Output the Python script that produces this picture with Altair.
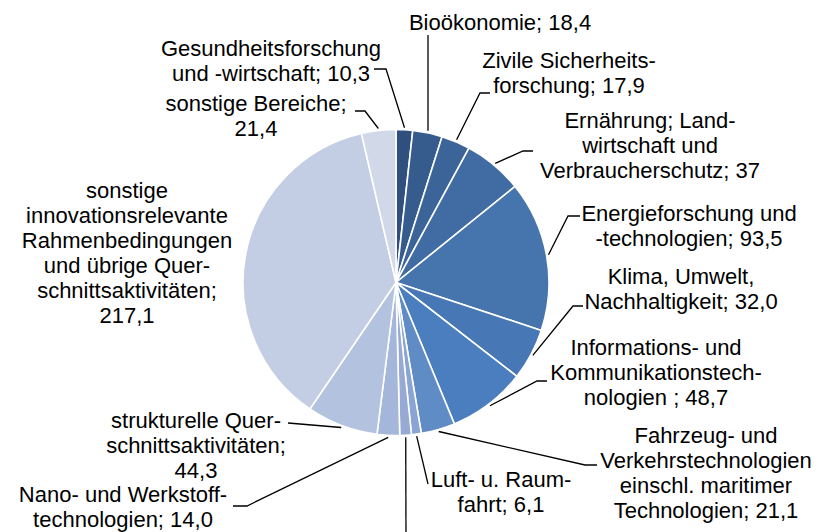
import math
import altair as alt
import pandas as pd

# ---------------- data (clockwise from 12 o'clock) ----------------
names = [
    "Gesundheitsforschung und -wirtschaft",
    "Bioökonomie",
    "Zivile Sicherheitsforschung",
    "Ernährung; Landwirtschaft und Verbraucherschutz",
    "Energieforschung und -technologien",
    "Klima, Umwelt, Nachhaltigkeit",
    "Informations- und Kommunikationstechnologien",
    "Fahrzeug- und Verkehrstechnologien einschl. maritimer Technologien",
    "Luft- u. Raumfahrt",
    "(Beschriftung außerhalb des Bildausschnitts)",
    "Nano- und Werkstofftechnologien",
    "strukturelle Querschnittsaktivitäten",
    "sonstige innovationsrelevante Rahmenbedingungen und übrige Querschnittsaktivitäten",
    "sonstige Bereiche",
]
values = [10.3, 18.4, 17.9, 37.0, 93.5, 32.0, 48.7, 21.1, 6.1, 7.2, 14.0, 44.3, 217.1, 21.4]
value_text = ["10,3", "18,4", "17,9", "37", "93,5", "32,0", "48,7", "21,1", "6,1", "",
              "14,0", "44,3", "217,1", "21,4"]
label_heads = [
    "Gesundheitsforschung\nund -wirtschaft; ",
    "Bioökonomie; ",
    "Zivile Sicherheits-\nforschung; ",
    "Ernährung;  Land-\nwirtschaft und\nVerbraucherschutz;  ",
    "Energieforschung und\n-technologien; ",
    "Klima, Umwelt,\nNachhaltigkeit; ",
    "Informations- und\nKommunikationstech-\nnologien ; ",
    "Fahrzeug- und\nVerkehrstechnologien\neinschl. maritimer\nTechnologien; ",
    "Luft- u. Raum-\nfahrt; ",
    "",
    "Nano- und Werkstoff-\ntechnologien; ",
    "strukturelle Quer-\nschnittsaktivitäten;\n",
    "sonstige\ninnovationsrelevante\nRahmenbedingungen\nund übrige Quer-\nschnittsaktivitäten;\n",
    "sonstige Bereiche;\n",
]
colors = [
    "#2f4f7f", "#365c8d", "#3b6598", "#406ca3", "#4675ae", "#4778b5", "#4a7ebe",
    "#608cc6", "#8aa4d3", "#97aad3", "#a4b6d9", "#b3c2df", "#c3cee4", "#d1d9e9",
]

# ---------------- layout (page pixel coordinates) ----------------
W, H = 804, 524
OX, OY = 8, 8
CX, CY, R = 396, 282.5, 153
label_anchor = [
    (271, 56), (500, 30), (569, 68), (650, 128), (689, 221), (681, 284),
    (656, 355), (706, 443), (501, 487), None, (123, 502), (196, 428),
    (127, 198), (256, 111),
]
leader_paths = [
    [(374, 69), (386, 69)],
    [(428, 35)],
    [(490, 93), (480, 93)],
    [(533, 151), (523, 151)],
    [(580, 216), (568, 216)],
    [(583, 306), (573, 306)],
    [(547, 381), (537, 381)],
    [(597, 465), (585, 465)],
    [(428, 484)],
    [(406, 545)],
    [(233, 506), (247, 506)],
    [(288, 423), (300, 424)],
    [],
    [(355, 111), (365, 111)],
]

n = len(values)
total = sum(values)
pie_df = pd.DataFrame({"idx": list(range(n)), "name": names, "value": values})

line_rows = []
cum = 0.0
for i, v in enumerate(values):
    mid = (cum + v / 2) / total * 2 * math.pi
    cum += v
    path = leader_paths[i]
    if not path:
        continue
    sx = CX + (R + 2) * math.sin(mid)
    sy = CY - (R + 2) * math.cos(mid)
    pts = path + [(sx, sy)]
    for k, (px, py) in enumerate(pts):
        line_rows.append({"id": i, "k": k, "x": px, "y": py})
lines_df = pd.DataFrame(line_rows)

text_rows = []
for i in range(n):
    if label_anchor[i] is None:
        continue
    text_rows.append({"label": label_heads[i] + value_text[i],
                      "x": label_anchor[i][0], "y": label_anchor[i][1]})
text_df = pd.DataFrame(text_rows)

xs = alt.Scale(domain=[OX, OX + W], range=[0, W], nice=False, zero=False)
ys = alt.Scale(domain=[OY, OY + H], range=[0, H], nice=False, zero=False)

pie = alt.Chart(pie_df).mark_arc(radius=R, stroke="white", strokeWidth=1.6).encode(
    theta=alt.Theta("value:Q", stack=True),
    order=alt.Order("idx:Q", sort="ascending"),
    color=alt.Color("name:N", scale=alt.Scale(domain=names, range=colors), legend=None),
    x=alt.value(CX - OX),
    y=alt.value(CY - OY),
)

lines = alt.Chart(lines_df).mark_line(color="black", strokeWidth=1.3).encode(
    x=alt.X("x:Q", scale=xs, axis=None),
    y=alt.Y("y:Q", scale=ys, axis=None),
    detail="id:N",
    order="k:Q",
)

texts = alt.Chart(text_df).mark_text(
    align="center", baseline="alphabetic", fontSize=22, font="Liberation Sans",
    lineHeight=25, lineBreak="\n", color="black",
).encode(
    x=alt.X("x:Q", scale=xs, axis=None),
    y=alt.Y("y:Q", scale=ys, axis=None),
    text="label:N",
)

chart = alt.layer(pie, lines, texts).properties(
    width=W, height=H, padding=0,
    autosize=alt.AutoSizeParams(type="none"),
).configure_view(strokeWidth=0)

chart.save("out.html", embed_options={"renderer": "svg", "actions": False})
